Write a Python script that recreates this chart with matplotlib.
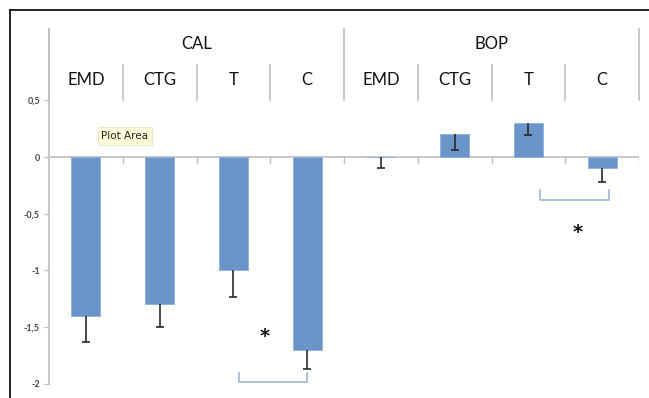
import matplotlib
matplotlib.use("Agg")
import matplotlib.pyplot as plt
from matplotlib.lines import Line2D
import numpy as np

# ---- data ----
groups = ["CAL", "BOP"]
subcats = ["EMD", "CTG", "T", "C"]
values = [-1.4, -1.3, -1.0, -1.7, 0.0, 0.2, 0.3, -0.1]
err_low = [0.23, 0.20, 0.24, 0.17, 0.10, 0.14, 0.11, 0.12]
yticks = [0.5, 0, -0.5, -1, -1.5, -2]
ytick_labels = ["0,5", "0", "-0,5", "-1", "-1,5", "-2"]

W, H = 649, 398
fig = plt.figure(figsize=(W / 100, H / 100), dpi=100)
fig.patch.set_facecolor("white")

# outer frame (top and left black lines)
fig.add_artist(Line2D([10 / W, 1.0], [1 - 10 / H, 1 - 10 / H], color="black", lw=1.2, transform=fig.transFigure))
fig.add_artist(Line2D([10 / W, 10 / W], [0, 1 - 10 / H], color="black", lw=1.2, transform=fig.transFigure))

left, right, top, bottom = 49, 639, 29, 383.6
ax = fig.add_axes([left / W, 1 - bottom / H, (right - left) / W, (bottom - top) / H])
ax.set_facecolor("none")

ytop = 1.13
ax.set_xlim(-0.5, 7.5)
ax.set_ylim(-2, ytop)

gray = "#bfbfbf"
for s in ["top", "right", "bottom"]:
    ax.spines[s].set_visible(False)
ax.spines["left"].set_color(gray)
ax.spines["left"].set_linewidth(1.2)

x = np.arange(len(values))
bar_color = "#6b95c9"
ax.bar(x, values, width=0.39, color=bar_color, edgecolor="#8db0db", linewidth=0.6, zorder=2)
eb = ax.errorbar(x, values, yerr=[err_low, [0] * len(values)], fmt="none", ecolor="#2a2a2a",
                 elinewidth=1.2, capsize=2.6, capthick=1.2, zorder=3)
caps = eb[1]
if len(caps) > 1:
    caps[1].set_visible(False)

# zero line with category ticks
ax.axhline(0, color=gray, lw=1.2, zorder=1)
for b in np.arange(0.5, 8, 1.0):
    ax.plot([b, b], [0, -0.05], color=gray, lw=1.0, zorder=1)

# y ticks
ax.set_yticks(yticks)
ax.set_yticklabels(ytick_labels, fontsize=6.5, fontweight="bold", color="#444444", family="Lato")
ax.tick_params(axis="y", length=3.5, width=0.9, color=gray, pad=3)
ax.set_xticks([])

# multi-level category labels at top
for b in [0.5, 1.5, 2.5, 4.5, 5.5, 6.5]:
    ax.plot([b, b], [0.5, 0.81], color=gray, lw=1.2, clip_on=False)
for b in [-0.5, 3.5, 7.5]:
    ax.plot([b, b], [0.5, ytop], color=gray, lw=1.2, clip_on=False)
for gi, g in enumerate(groups):
    ax.text(gi * 4 + 1.5, 1.0, g, ha="center", va="center", fontsize=12, family="Lato", color="#111111")
    for si, s in enumerate(subcats):
        ax.text(gi * 4 + si, 0.68, s, ha="center", va="center", fontsize=12, family="Lato", color="#111111")

# significance brackets and asterisks
br_color = "#9fb6d3"
ax.plot([2.07, 2.07, 3.0, 3.0], [-1.907, -1.99, -1.99, -1.907], color=br_color, lw=1.2, clip_on=False)
ax.plot([6.16, 6.16, 7.09, 7.09], [-0.29, -0.375, -0.375, -0.29], color=br_color, lw=1.2, clip_on=False)
ax.text(2.43, -1.58, "*", ha="center", va="center", fontsize=14, fontweight="bold", color="#111111")
ax.text(6.67, -0.67, "*", ha="center", va="center", fontsize=14, fontweight="bold", color="#111111")

# tooltip
ax.text(0.53, 0.185, "Plot Area", ha="center", va="center", fontsize=7.5, family="DejaVu Sans",
        color="#222222",
        bbox=dict(boxstyle="square,pad=0.35", fc="#fdfbd9", ec="#e8e4c0", lw=0.6))

fig.savefig("out.png", dpi=100, facecolor="white")
